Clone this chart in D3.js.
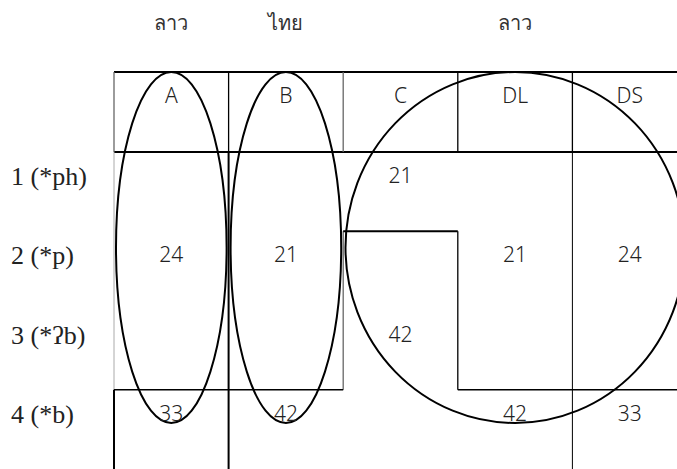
<!DOCTYPE html>
<html>
<head>
<meta charset="utf-8">
<script src="https://cdn.jsdelivr.net/npm/d3@7"></script>
<style>
body { margin: 0; background: #fff; }
</style>
</head>
<body>
<script>
var width = 677, height = 469;

var columns = ["A", "B", "C", "DL", "DS"];
var rows = ["1", "2", "3", "4"];
var rowLabels = ["1 (*ph)", "2 (*p)", "3 (*\u0294b)", "4 (*b)"];
var groups = [
	{label: "ลาว", from: "A", to: "A"},
	{label: "ไทย", from: "B", to: "B"},
	{label: "ลาว", from: "C", to: "DS"}
];
// tone values: column, row, value
var cells = [
	["C", "1", "21"],
	["A", "2", "24"], ["B", "2", "21"], ["DL", "2", "21"], ["DS", "2", "24"],
	["C", "3", "42"],
	["A", "4", "33"], ["B", "4", "42"], ["DL", "4", "42"], ["DS", "4", "33"]
];

var x = d3.scaleBand().domain(columns).range([114, 687]);
var y = d3.scaleBand().domain(rows).range([152, 469]);
var top_y = 72;
var bw = x.bandwidth(), bh = y.bandwidth();

var svg = d3.select("body")
	.append("svg")
	.attr("width", width)
	.attr("height", height);

function line(x1, y1, x2, y2, w, c){
	svg.append("line")
	.attr("x1", x1).attr("y1", y1)
	.attr("x2", x2).attr("y2", y2)
	.attr("stroke", c || "#000")
	.attr("stroke-width", w);
}

// header box
line(x("A"), top_y, width, top_y, 2);
line(x("A"), y("1"), width, y("1"), 2);
columns.forEach(function(c){
	line(x(c), top_y, x(c), y("1"), 1.3, c == "A" || c == "C" ? "#666" : "#000");
});

// body lines
line(x("A"), y("1"), x("A"), y("4"), 1, "#aaa");
line(x("A"), y("4"), x("A"), height, 2);
line(x("B"), y("1"), x("B"), height, 2);
line(x("C"), y("2"), x("C"), y("4"), 1.3, "#666");
line(x("C"), y("2"), x("DL"), y("2"), 2);
line(x("DL"), y("2"), x("DL"), y("4"), 1.3);
line(x("DS"), y("1"), x("DS"), height, 1);
line(x("A"), y("4"), x("C"), y("4"), 1.3);
line(x("DL"), y("4"), width, y("4"), 1.3);

// group rings
var ringBottom = 423;
svg.selectAll("ellipse")
	.data(groups)
	.enter()
	.append("ellipse")
	.attr("cx", function(d){
		return (x(d.from) + x(d.to) + bw) / 2;
	})
	.attr("cy", (top_y + ringBottom) / 2)
	.attr("rx", function(d){
		return d.from == d.to ? bw / 2 - 2 : bw * 1.48;
	})
	.attr("ry", (ringBottom - top_y) / 2)
	.attr("fill", "none")
	.attr("stroke", "#000")
	.attr("stroke-width", 2);

// group labels
svg.selectAll("text.group")
	.data(groups)
	.enter()
	.append("text")
	.attr("class", "group")
	.attr("x", function(d){ return (x(d.from) + x(d.to) + bw) / 2; })
	.attr("y", 30)
	.attr("text-anchor", "middle")
	.attr("font-family", "'Noto Sans', 'DejaVu Sans', sans-serif")
	.attr("font-weight", 300)
	.attr("font-size", 20)
	.attr("fill", "#333")
	.text(function(d){ return d.label; });

// column headers
svg.selectAll("text.col")
	.data(columns)
	.enter()
	.append("text")
	.attr("class", "col")
	.attr("x", function(d){ return x(d) + bw / 2; })
	.attr("y", 103)
	.attr("text-anchor", "middle")
	.attr("font-family", "'Noto Sans', sans-serif")
	.attr("font-weight", 300)
	.attr("font-size", 21)
	.attr("fill", "#222")
	.text(function(d){ return d; });

// row labels
svg.selectAll("text.row")
	.data(rows)
	.enter()
	.append("text")
	.attr("class", "row")
	.attr("x", 11)
	.attr("y", function(d){ return y(d) + 33; })
	.attr("font-family", "'Liberation Serif', serif")
	.attr("font-size", 26)
	.attr("fill", "#222")
	.text(function(d, i){ return rowLabels[i]; });

// cell values
svg.selectAll("text.cell")
	.data(cells)
	.enter()
	.append("text")
	.attr("class", "cell")
	.attr("x", function(d){ return x(d[0]) + bw / 2; })
	.attr("y", function(d){ return y(d[1]) + 31; })
	.attr("text-anchor", "middle")
	.attr("font-family", "'Noto Sans', sans-serif")
	.attr("font-weight", 300)
	.attr("font-size", 21)
	.attr("fill", "#222")
	.text(function(d){ return d[2]; });
</script>
</body>
</html>
